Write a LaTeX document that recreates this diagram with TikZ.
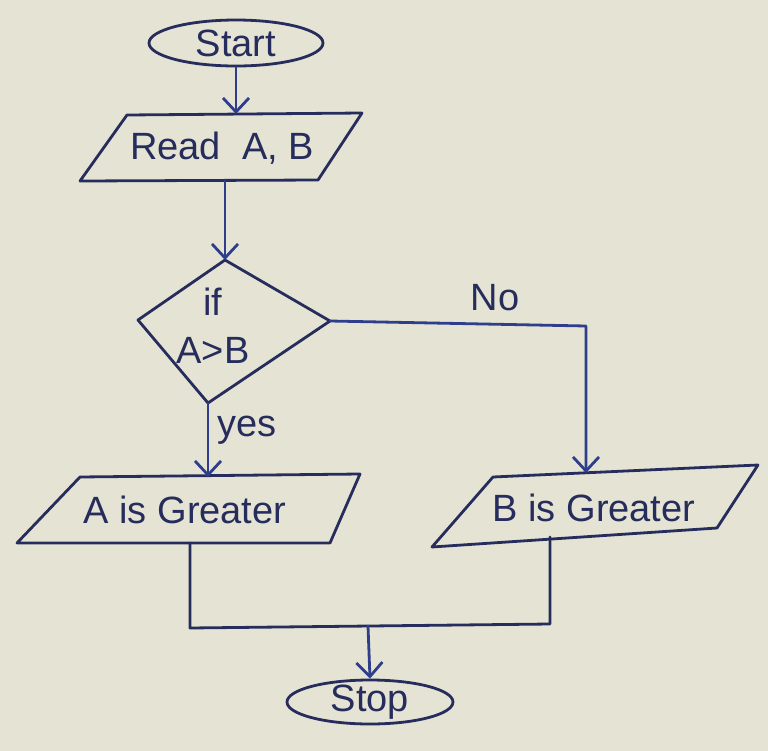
\documentclass[tikz,border=0pt]{standalone}
\usepackage{fontspec}
\setmainfont{Liberation Sans}
\usetikzlibrary{shapes.geometric,arrows.meta}
\definecolor{paper}{RGB}{229,228,212}
\definecolor{ink}{RGB}{38,44,92}
\definecolor{bluink}{RGB}{46,62,140}
\tikzset{
  pen/.style={draw=ink, line width=1.4pt, line join=round, line cap=round},
  flow/.style={pen, draw=bluink, -{Straight Barb[length=7pt,width=13pt,line width=1.4pt]}},
  term/.style={ellipse, pen, inner sep=0pt},
  lbl/.style={text=ink, font=\fontsize{19}{22}\selectfont, inner sep=0pt, align=center},
}
\begin{document}
\begin{tikzpicture}[x=0.5pt, y=-0.5pt]
  \fill[paper] (0,0) rectangle (768,751);
  \useasboundingbox (0,0) rectangle (768,751);

  % terminals
  \node[term, minimum width=87pt, minimum height=23pt] (start) at (236,43) {};
  \node[lbl] at (start) {Start};
  \node[term, minimum width=83pt, minimum height=22pt] (stop) at (370,702) {};
  \node[lbl] at (stop) {Stop};

  % input box
  \coordinate (r1) at (127,115); \coordinate (r2) at (362,113);
  \coordinate (r3) at (318,180); \coordinate (r4) at (80,181);
  \draw[pen] (r1) -- (r2) -- (r3) -- (r4) -- cycle;
  \node[lbl] (read) at (222,148) {Read\ \ A, B};
  \coordinate (readT) at (236,114);
  \coordinate (readB) at (225,181);

  % decision
  \coordinate (dT) at (225,260); \coordinate (dR) at (330,321);
  \coordinate (dB) at (208,403); \coordinate (dL) at (138,320);
  \draw[pen] (dT) -- (dR) -- (dB) -- (dL) -- cycle;
  \node[lbl] (cond) at (213,326) {if\\[2pt]A>B};

  % output boxes
  \coordinate (a1) at (80,477); \coordinate (a2) at (360,474);
  \coordinate (a3) at (330,543); \coordinate (a4) at (17,543);
  \draw[pen] (a1) -- (a2) -- (a3) -- (a4) -- cycle;
  \node[lbl] (agt) at (185,510) {A is Greater};
  \coordinate (aT) at (208,477);
  \coordinate (aB) at (190,543);

  \coordinate (b1) at (493,477); \coordinate (b2) at (758,465);
  \coordinate (b3) at (717,528); \coordinate (b4) at (432,547);
  \draw[pen] (b1) -- (b2) -- (b3) -- (b4) -- cycle;
  \node[lbl] (bgt) at (594,508) {B is Greater};
  \coordinate (bT) at (586,473);
  \coordinate (bB) at (550,537);

  % junction
  \coordinate (jA) at (190,628);
  \coordinate (jB) at (550,624);
  \coordinate (jM) at (368,626);

  % connectors
  \draw[flow] (start.south) -- (readT);
  \draw[flow] (readB) -- (dT);
  \draw[flow] (dB) -- (aT);
  \draw[flow] (dR) -- (586,326) -- (bT);
  \draw[pen] (aB) -- (jA) -- (jB) -- (bB);
  \draw[flow] (jM) -- (stop.north);

  \node[lbl] (no) at (495,298) {No};
  \node[lbl] (yes) at (247,430) {yes};
\end{tikzpicture}
\end{document}
